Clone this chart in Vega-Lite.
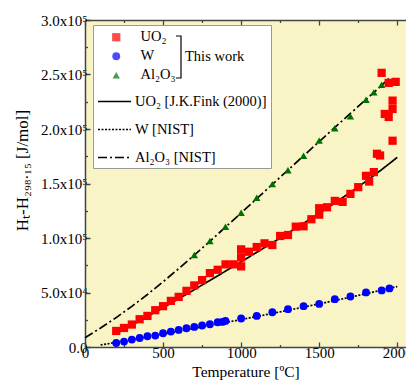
{
  "$schema": "https://vega.github.io/schema/vega-lite/v6.json",
  "width": 321,
  "height": 327,
  "autosize": {"type": "none"},
  "padding": {"left": 85, "top": 20, "right": 0, "bottom": 38},
  "background": "white",
  "config": {
    "view": {"fill": "#f8f4c6", "stroke": null},
    "font": "Liberation Serif",
    "axis": {
      "domainColor": "#444444",
      "domainWidth": 1.5,
      "tickColor": "#444444",
      "tickWidth": 1.3,
      "labelFont": "Liberation Serif",
      "labelFontSize": 15,
      "labelColor": "black",
      "titleFont": "Liberation Serif",
      "titleFontSize": 15.5,
      "titleFontWeight": "normal",
      "titleColor": "black",
      "grid": false
    },
    "legend": {
      "labelFont": "Liberation Serif",
      "labelFontSize": 14.5,
      "labelColor": "black",
      "titleFont": "Liberation Serif"
    }
  },
  "datasets": {
    "pts": [
      {"s": "UO\u2082", "g": "This work", "T": 200, "H": 14720},
      {"s": "UO\u2082", "g": "This work", "T": 250, "H": 17480},
      {"s": "UO\u2082", "g": "This work", "T": 300, "H": 20610},
      {"s": "UO\u2082", "g": "This work", "T": 350, "H": 25480},
      {"s": "UO\u2082", "g": "This work", "T": 400, "H": 28520},
      {"s": "UO\u2082", "g": "This work", "T": 450, "H": 33760},
      {"s": "UO\u2082", "g": "This work", "T": 500, "H": 37440},
      {"s": "UO\u2082", "g": "This work", "T": 550, "H": 42320},
      {"s": "UO\u2082", "g": "This work", "T": 600, "H": 46000},
      {"s": "UO\u2082", "g": "This work", "T": 650, "H": 51520},
      {"s": "UO\u2082", "g": "This work", "T": 700, "H": 56490},
      {"s": "UO\u2082", "g": "This work", "T": 750, "H": 61360},
      {"s": "UO\u2082", "g": "This work", "T": 800, "H": 67800},
      {"s": "UO\u2082", "g": "This work", "T": 850, "H": 70840},
      {"s": "UO\u2082", "g": "This work", "T": 900, "H": 75810},
      {"s": "UO\u2082", "g": "This work", "T": 950, "H": 75810},
      {"s": "UO\u2082", "g": "This work", "T": 1000, "H": 73970},
      {"s": "UO\u2082", "g": "This work", "T": 1000, "H": 82250},
      {"s": "UO\u2082", "g": "This work", "T": 1000, "H": 89600},
      {"s": "UO\u2082", "g": "This work", "T": 1050, "H": 87400},
      {"s": "UO\u2082", "g": "This work", "T": 1100, "H": 91720},
      {"s": "UO\u2082", "g": "This work", "T": 1150, "H": 95120},
      {"s": "UO\u2082", "g": "This work", "T": 1200, "H": 93560},
      {"s": "UO\u2082", "g": "This work", "T": 1250, "H": 101840},
      {"s": "UO\u2082", "g": "This work", "T": 1300, "H": 102760},
      {"s": "UO\u2082", "g": "This work", "T": 1350, "H": 110400},
      {"s": "UO\u2082", "g": "This work", "T": 1400, "H": 110760},
      {"s": "UO\u2082", "g": "This work", "T": 1450, "H": 117200},
      {"s": "UO\u2082", "g": "This work", "T": 1500, "H": 121430},
      {"s": "UO\u2082", "g": "This work", "T": 1500, "H": 127320},
      {"s": "UO\u2082", "g": "This work", "T": 1550, "H": 128200},
      {"s": "UO\u2082", "g": "This work", "T": 1600, "H": 134040},
      {"s": "UO\u2082", "g": "This work", "T": 1650, "H": 133120},
      {"s": "UO\u2082", "g": "This work", "T": 1700, "H": 140480},
      {"s": "UO\u2082", "g": "This work", "T": 1750, "H": 146640},
      {"s": "UO\u2082", "g": "This work", "T": 1800, "H": 157040},
      {"s": "UO\u2082", "g": "This work", "T": 1820, "H": 151790},
      {"s": "UO\u2082", "g": "This work", "T": 1850, "H": 160440},
      {"s": "UO\u2082", "g": "This work", "T": 1870, "H": 177280},
      {"s": "UO\u2082", "g": "This work", "T": 1890, "H": 175710},
      {"s": "UO\u2082", "g": "This work", "T": 1970, "H": 189240},
      {"s": "UO\u2082", "g": "This work", "T": 1920, "H": 213800},
      {"s": "UO\u2082", "g": "This work", "T": 1945, "H": 211040},
      {"s": "UO\u2082", "g": "This work", "T": 1970, "H": 218400},
      {"s": "UO\u2082", "g": "This work", "T": 1970, "H": 226030},
      {"s": "UO\u2082", "g": "This work", "T": 1900, "H": 251520},
      {"s": "UO\u2082", "g": "This work", "T": 1945, "H": 242320},
      {"s": "UO\u2082", "g": "This work", "T": 1990, "H": 243240},
      {"s": "W", "g": "This work", "T": 200, "H": 3680},
      {"s": "W", "g": "This work", "T": 250, "H": 4970},
      {"s": "W", "g": "This work", "T": 300, "H": 6810},
      {"s": "W", "g": "This work", "T": 350, "H": 8280},
      {"s": "W", "g": "This work", "T": 400, "H": 9840},
      {"s": "W", "g": "This work", "T": 450, "H": 10490},
      {"s": "W", "g": "This work", "T": 500, "H": 12600},
      {"s": "W", "g": "This work", "T": 550, "H": 14170},
      {"s": "W", "g": "This work", "T": 600, "H": 15640},
      {"s": "W", "g": "This work", "T": 650, "H": 17200},
      {"s": "W", "g": "This work", "T": 700, "H": 18400},
      {"s": "W", "g": "This work", "T": 750, "H": 19690},
      {"s": "W", "g": "This work", "T": 800, "H": 20880},
      {"s": "W", "g": "This work", "T": 850, "H": 22720},
      {"s": "W", "g": "This work", "T": 880, "H": 23000},
      {"s": "W", "g": "This work", "T": 900, "H": 23920},
      {"s": "W", "g": "This work", "T": 1000, "H": 26130},
      {"s": "W", "g": "This work", "T": 1100, "H": 28520},
      {"s": "W", "g": "This work", "T": 1200, "H": 31920},
      {"s": "W", "g": "This work", "T": 1300, "H": 34680},
      {"s": "W", "g": "This work", "T": 1400, "H": 37440},
      {"s": "W", "g": "This work", "T": 1500, "H": 39560},
      {"s": "W", "g": "This work", "T": 1600, "H": 43880},
      {"s": "W", "g": "This work", "T": 1700, "H": 46370},
      {"s": "W", "g": "This work", "T": 1800, "H": 50050},
      {"s": "W", "g": "This work", "T": 1900, "H": 51890},
      {"s": "W", "g": "This work", "T": 1950, "H": 53730},
      {"s": "Al\u2082O\u2083", "g": "This work", "T": 700, "H": 84400},
      {"s": "Al\u2082O\u2083", "g": "This work", "T": 800, "H": 97200},
      {"s": "Al\u2082O\u2083", "g": "This work", "T": 900, "H": 110400},
      {"s": "Al\u2082O\u2083", "g": "This work", "T": 1000, "H": 123200},
      {"s": "Al\u2082O\u2083", "g": "This work", "T": 1100, "H": 137000},
      {"s": "Al\u2082O\u2083", "g": "This work", "T": 1200, "H": 149400},
      {"s": "Al\u2082O\u2083", "g": "This work", "T": 1300, "H": 162100},
      {"s": "Al\u2082O\u2083", "g": "This work", "T": 1400, "H": 175500},
      {"s": "Al\u2082O\u2083", "g": "This work", "T": 1500, "H": 189300},
      {"s": "Al\u2082O\u2083", "g": "This work", "T": 1600, "H": 200700},
      {"s": "Al\u2082O\u2083", "g": "This work", "T": 1700, "H": 211600},
      {"s": "Al\u2082O\u2083", "g": "This work", "T": 1800, "H": 226800},
      {"s": "Al\u2082O\u2083", "g": "This work", "T": 1850, "H": 233600},
      {"s": "Al\u2082O\u2083", "g": "This work", "T": 1900, "H": 240600}
    ],
    "lines": [
      {"m": "UO\u2082 [J.K.Fink (2000)]", "T": 200, "H": 12314},
      {"m": "UO\u2082 [J.K.Fink (2000)]", "T": 300, "H": 20000},
      {"m": "UO\u2082 [J.K.Fink (2000)]", "T": 400, "H": 27936},
      {"m": "UO\u2082 [J.K.Fink (2000)]", "T": 500, "H": 36047},
      {"m": "UO\u2082 [J.K.Fink (2000)]", "T": 600, "H": 44286},
      {"m": "UO\u2082 [J.K.Fink (2000)]", "T": 700, "H": 52631},
      {"m": "UO\u2082 [J.K.Fink (2000)]", "T": 800, "H": 61062},
      {"m": "UO\u2082 [J.K.Fink (2000)]", "T": 900, "H": 69585},
      {"m": "UO\u2082 [J.K.Fink (2000)]", "T": 1000, "H": 78178},
      {"m": "UO\u2082 [J.K.Fink (2000)]", "T": 1100, "H": 86849},
      {"m": "UO\u2082 [J.K.Fink (2000)]", "T": 1200, "H": 95607},
      {"m": "UO\u2082 [J.K.Fink (2000)]", "T": 1300, "H": 104482},
      {"m": "UO\u2082 [J.K.Fink (2000)]", "T": 1400, "H": 113492},
      {"m": "UO\u2082 [J.K.Fink (2000)]", "T": 1500, "H": 122685},
      {"m": "UO\u2082 [J.K.Fink (2000)]", "T": 1600, "H": 132121},
      {"m": "UO\u2082 [J.K.Fink (2000)]", "T": 1700, "H": 141883},
      {"m": "UO\u2082 [J.K.Fink (2000)]", "T": 1800, "H": 152045},
      {"m": "UO\u2082 [J.K.Fink (2000)]", "T": 1900, "H": 162715},
      {"m": "UO\u2082 [J.K.Fink (2000)]", "T": 2000, "H": 173971},
      {"m": "W [NIST]", "T": 100, "H": 1850},
      {"m": "W [NIST]", "T": 200, "H": 4300},
      {"m": "W [NIST]", "T": 300, "H": 6800},
      {"m": "W [NIST]", "T": 400, "H": 9300},
      {"m": "W [NIST]", "T": 600, "H": 14450},
      {"m": "W [NIST]", "T": 800, "H": 19750},
      {"m": "W [NIST]", "T": 1000, "H": 25200},
      {"m": "W [NIST]", "T": 1200, "H": 30800},
      {"m": "W [NIST]", "T": 1400, "H": 36600},
      {"m": "W [NIST]", "T": 1600, "H": 42600},
      {"m": "W [NIST]", "T": 1800, "H": 48900},
      {"m": "W [NIST]", "T": 2000, "H": 55500},
      {"m": "Al\u2082O\u2083 [NIST]", "T": 0, "H": 8500},
      {"m": "Al\u2082O\u2083 [NIST]", "T": 100, "H": 17400},
      {"m": "Al\u2082O\u2083 [NIST]", "T": 200, "H": 27000},
      {"m": "Al\u2082O\u2083 [NIST]", "T": 300, "H": 37300},
      {"m": "Al\u2082O\u2083 [NIST]", "T": 400, "H": 48200},
      {"m": "Al\u2082O\u2083 [NIST]", "T": 500, "H": 59800},
      {"m": "Al\u2082O\u2083 [NIST]", "T": 600, "H": 71900},
      {"m": "Al\u2082O\u2083 [NIST]", "T": 700, "H": 84300},
      {"m": "Al\u2082O\u2083 [NIST]", "T": 800, "H": 97000},
      {"m": "Al\u2082O\u2083 [NIST]", "T": 900, "H": 110000},
      {"m": "Al\u2082O\u2083 [NIST]", "T": 1000, "H": 123000},
      {"m": "Al\u2082O\u2083 [NIST]", "T": 1100, "H": 136100},
      {"m": "Al\u2082O\u2083 [NIST]", "T": 1200, "H": 149200},
      {"m": "Al\u2082O\u2083 [NIST]", "T": 1300, "H": 162300},
      {"m": "Al\u2082O\u2083 [NIST]", "T": 1400, "H": 175400},
      {"m": "Al\u2082O\u2083 [NIST]", "T": 1500, "H": 188500},
      {"m": "Al\u2082O\u2083 [NIST]", "T": 1600, "H": 201400},
      {"m": "Al\u2082O\u2083 [NIST]", "T": 1700, "H": 214300},
      {"m": "Al\u2082O\u2083 [NIST]", "T": 1800, "H": 227100},
      {"m": "Al\u2082O\u2083 [NIST]", "T": 1900, "H": 240000},
      {"m": "Al\u2082O\u2083 [NIST]", "T": 1955, "H": 247500}
    ]
  },
  "resolve": {"axis": {"x": "independent"}},
  "layer": [
    {
      "data": {"name": "lines"},
      "mark": {"type": "line", "color": "black", "strokeWidth": 1.7, "strokeCap": "butt"},
      "encoding": {
        "x": {
          "field": "T", "type": "quantitative",
          "scale": {"domain": [0, 2056], "nice": false, "zero": false},
          "axis": {
            "orient": "top", "title": null, "labels": false,
            "values": [0, 250, 500, 750, 1000, 1250, 1500, 1750, 2000],
            "tickSize": -5,
            "tickDash": {"condition": {"test": "datum.value % 500 == 0", "value": [1, 0]}, "value": [2.5, 20]}
          }
        },
        "y": {
          "field": "H", "type": "quantitative",
          "scale": {"domain": [0, 300000], "nice": false},
          "axis": {
            "orient": "left",
            "title": "H\u209c-H\u2082\u2089\u2088.\u2081\u2085 [J/mol]",
            "titleFontSize": 17, "titleFontWeight": "normal",
            "titleX": -58, "titleY": 150, "titleAngle": 270, "titleBaseline": "alphabetic", "titleAlign": "center",
            "values": [0, 25000, 50000, 75000, 100000, 125000, 150000, 175000, 200000, 225000, 250000, 275000, 300000],
            "tickSize": -5,
            "tickDash": {"condition": {"test": "datum.value % 50000 == 0", "value": [1, 0]}, "value": [2.5, 20]},
            "labelPadding": 3,
            "labelExpr": "datum.value == 0 ? '0.0' : (datum.value % 50000 != 0 ? '' : (datum.value < 100000 ? format(datum.value / 10000, '.1f') + 'x10\u2074' : format(datum.value / 100000, '.1f') + 'x10\u2075'))"
          }
        },
        "strokeDash": {
          "field": "m", "type": "nominal",
          "scale": {
            "domain": ["UO\u2082 [J.K.Fink (2000)]", "W [NIST]", "Al\u2082O\u2083 [NIST]"],
            "range": [[1, 0], [2, 1.5], [9, 3, 2, 3]]
          },
          "legend": {
            "orient": "none", "legendX": 8, "legendY": 5,
            "title": ["\u00a0", "\u00a0", "\u00a0"],
            "titleLineHeight": 18.5, "titleFontSize": 14, "titlePadding": 4,
            "padding": 4, "fillColor": "white", "strokeColor": "#999999",
            "symbolType": "stroke", "symbolSize": 1089,
            "symbolStrokeColor": "black", "symbolStrokeWidth": 1.6,
            "labelOffset": 3, "rowPadding": 4, "zindex": 0
          }
        }
      }
    },
    {
      "data": {"name": "pts"},
      "mark": {"type": "point", "filled": true, "strokeWidth": 0},
      "encoding": {
        "x": {
          "field": "T", "type": "quantitative",
          "scale": {"domain": [0, 2056], "nice": false, "zero": false},
          "axis": {
            "orient": "bottom", "title": "Temperature [\u00baC]",
            "titleFontWeight": "normal", "titleFontSize": 15.5,
            "values": [0, 250, 500, 750, 1000, 1250, 1500, 1750, 2000],
            "tickSize": -5,
            "tickDash": {"condition": {"test": "datum.value % 500 == 0", "value": [1, 0]}, "value": [2.5, 20]},
            "labelPadding": 3, "labelFlush": false,
            "labelExpr": "datum.value % 500 == 0 ? datum.value + '' : ''"
          }
        },
        "y": {
          "field": "H", "type": "quantitative",
          "scale": {"domain": [0, 300000], "nice": false},
          "axis": {
            "orient": "left",
            "title": "H\u209c-H\u2082\u2089\u2088.\u2081\u2085 [J/mol]",
            "titleFontSize": 17, "titleFontWeight": "normal",
            "titleX": -58, "titleY": 150, "titleAngle": 270, "titleBaseline": "alphabetic", "titleAlign": "center",
            "values": [0, 25000, 50000, 75000, 100000, 125000, 150000, 175000, 200000, 225000, 250000, 275000, 300000],
            "tickSize": -5,
            "tickDash": {"condition": {"test": "datum.value % 50000 == 0", "value": [1, 0]}, "value": [2.5, 20]},
            "labelPadding": 3,
            "labelExpr": "datum.value == 0 ? '0.0' : (datum.value % 50000 != 0 ? '' : (datum.value < 100000 ? format(datum.value / 10000, '.1f') + 'x10\u2074' : format(datum.value / 100000, '.1f') + 'x10\u2075'))"
          }
        },
        "size": {
          "field": "s", "type": "nominal",
          "scale": {"domain": ["UO\u2082", "W", "Al\u2082O\u2083"], "range": [68, 55, 90]},
          "legend": null
        },
        "color": {
          "field": "s", "type": "nominal",
          "scale": {"domain": ["UO\u2082", "W", "Al\u2082O\u2083"], "range": ["#ff0000", "#0000ff", "#007000"]},
          "legend": {
            "orient": "none", "legendX": 24, "legendY": 10, "title": null,
            "padding": 0, "symbolSize": 68, "symbolStrokeWidth": 0,
            "labelOffset": 17, "rowPadding": 4, "zindex": 2
          }
        },
        "shape": {
          "field": "s", "type": "nominal",
          "scale": {"domain": ["UO\u2082", "W", "Al\u2082O\u2083"], "range": ["square", "circle", "triangle-up"]}
        },
        "opacity": {
          "field": "g", "type": "ordinal",
          "scale": {"range": [1, 1]},
          "legend": {
            "orient": "none", "legendX": 74, "legendY": 15, "title": null,
            "padding": 0, "symbolType": "M-0.24,-1H0V1H-0.24", "symbolSize": 1764,
            "symbolFillColor": "transparent", "symbolStrokeColor": "black",
            "symbolStrokeWidth": 1.2, "labelOffset": -18, "zindex": 2
          }
        }
      }
    }
  ]
}
